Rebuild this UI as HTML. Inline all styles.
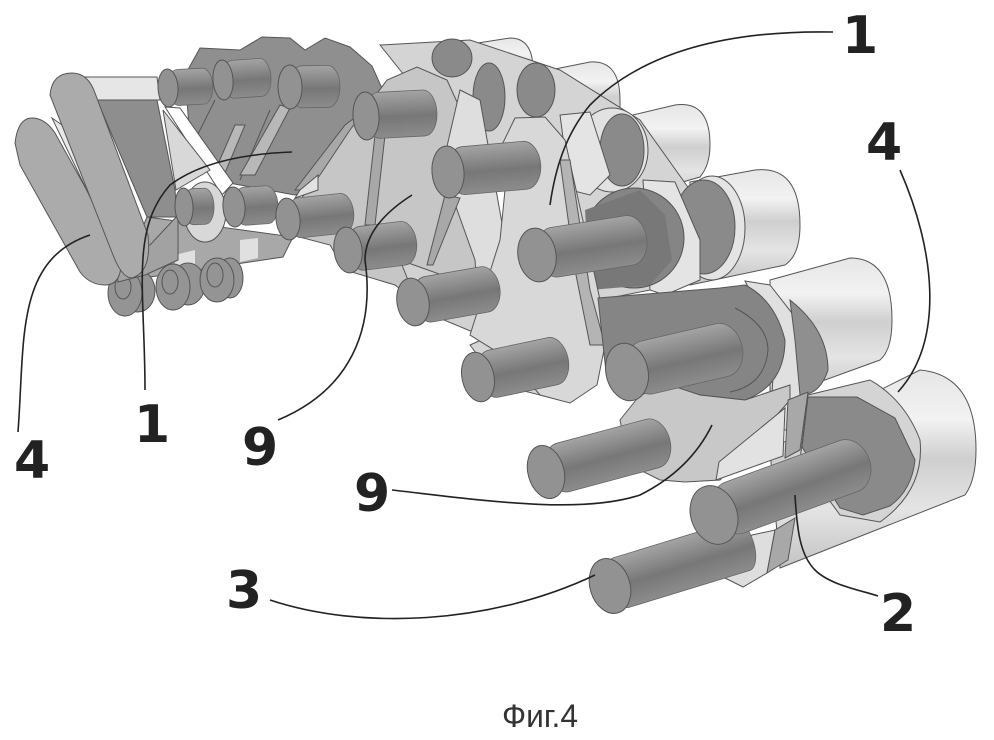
<!DOCTYPE html>
<html><head><meta charset="utf-8"><style>
html,body{margin:0;padding:0;background:#fff}
svg{display:block}
text{font-family:"DejaVu Sans","Liberation Sans",sans-serif;font-weight:bold;fill:#222}
.o{stroke:#555;stroke-width:1}
.pin rect{fill:url(#pin);stroke:#666;stroke-width:.8}
.pin ellipse{fill:#929292;stroke:#555;stroke-width:1}
</style></head><body>
<svg width="994" height="740" viewBox="0 0 994 740" xmlns="http://www.w3.org/2000/svg">
<defs>
<linearGradient id="roll" x1="0" y1="0" x2="0" y2="1"><stop offset="0" stop-color="#e6e6e6"/><stop offset=".25" stop-color="#f2f2f2"/><stop offset=".45" stop-color="#cfcfcf"/><stop offset=".7" stop-color="#e4e4e4"/><stop offset="1" stop-color="#c4c4c4"/></linearGradient>
<linearGradient id="pin" x1="0" y1="0" x2="0" y2="1"><stop offset="0" stop-color="#a4a4a4"/><stop offset=".55" stop-color="#777"/><stop offset="1" stop-color="#8c8c8c"/></linearGradient>
</defs>
<rect width="994" height="740" fill="#fff"/>

<!-- Rollers back to front -->
<g fill="url(#roll)" class="o">
<path d="M465,45 L510,38 Q533,38 533,70 L533,100 L465,105Z"/>
<path d="M540,72 L590,62 Q620,60 620,100 L620,125 L540,140Z"/>
<path d="M620,118 L675,105 Q710,100 710,145 Q710,165 700,177 L620,200Z"/>
<path d="M690,182 L755,170 Q800,165 800,225 Q800,255 785,265 L690,285Z"/>
<path d="M770,280 L850,258 Q892,258 892,320 Q892,350 880,360 L770,400Z"/>
<path d="M860,400 L920,370 Q976,375 976,450 Q976,480 965,495 L780,568 L770,450Z"/>
</g>

<!-- Top back light bands and washers -->
<path d="M380,45 L470,40 L560,70 L640,120 L690,190 L700,280 L600,300 L520,200 L440,120Z" fill="#d4d4d4" class="o"/>
<g fill="#8a8a8a" class="o">
<ellipse cx="452" cy="58" rx="20" ry="19"/>
<ellipse cx="489" cy="97" rx="16" ry="34"/>
<ellipse cx="536" cy="90" rx="19" ry="27"/>
</g>
<ellipse cx="612" cy="150" rx="36" ry="42" fill="#e2e2e2" class="o"/>
<ellipse cx="622" cy="150" rx="22" ry="36" fill="#8a8a8a" class="o"/>
<path d="M560,115 L590,112 L610,175 L590,195 L570,190Z" fill="#e4e4e4" class="o"/>
<ellipse cx="712" cy="228" rx="33" ry="52" fill="#e4e4e4" class="o"/>
<ellipse cx="704" cy="227" rx="31" ry="47" fill="#8a8a8a" class="o"/>
<path d="M643,180 L675,182 L700,240 L700,280 L665,295 L650,290Z" fill="#e4e4e4" class="o"/>
<ellipse cx="634" cy="238" rx="50" ry="50" fill="#858585" class="o"/>
<path d="M585,210 L640,190 L665,215 L672,260 L650,285 L590,290Z" fill="#787878"/>

<!-- Top-left dark mass -->
<path d="M185,75 L200,48 L240,50 L262,37 L290,38 L305,50 L325,38 L350,47 L372,66 L385,95 L360,150 L310,190 L295,195 L240,185 L213,180 L190,140Z" fill="#8f8f8f" class="o"/>
<g fill="none" stroke="#555"><path d="M215,100 L190,150M270,110 L240,180"/></g>
<path d="M235,125 L245,125 L222,180 L212,178Z" fill="#b8b8b8" class="o"/>
<path d="M280,105 L290,108 L255,175 L240,175Z" fill="#b8b8b8" class="o"/>
<path d="M345,125 L385,95 L390,130 L345,170 L305,190 L295,190Z" fill="#a8a8a8" class="o"/>

<!-- Mid plate -->
<path d="M350,130 L387,80 L417,67 L447,80 L462,113 L470,170 L495,250 L520,320 L495,335 L460,325 L420,305 L395,285 L345,270 L330,245 L292,235 L300,200 L320,175Z" fill="#c6c6c6" class="o"/>
<path d="M300,190 L318,175 L318,190 L295,198Z" fill="#e2e2e2" class="o"/>
<path d="M375,135 L385,135 L375,225 L365,225Z" fill="#a8a8a8" class="o"/>
<path d="M460,90 L480,100 L505,240 L530,320 L505,335 L480,330 L475,260 L450,190 L445,155Z" fill="#dedede" class="o"/>
<path d="M445,195 L460,198 L433,265 L427,265Z" fill="#a8a8a8" class="o"/>
<path d="M400,260 L470,285 L510,335 L480,335 L420,310Z" fill="#d2d2d2" class="o"/>
<path d="M515,325 L560,340 L590,385 L560,400 L500,385 L470,345Z" fill="#d5d5d5" class="o"/>

<!-- Plate with pins 6 / 5 -->
<path d="M497,155 L515,118 L545,117 L565,140 L575,185 L585,230 L600,300 L605,345 L597,385 L570,403 L540,395 L510,360 L470,335 L500,240 L505,190Z" fill="#d8d8d8" class="o"/>
<path d="M560,160 L570,160 L590,290 L605,345 L590,345 L575,270Z" fill="#b4b4b4" class="o"/>

<!-- Left end -->
<path d="M80,77 L157,77 L160,100 L97,100Z" fill="#e6e6e6" class="o"/>
<path d="M97,100 L157,100 L175,190 L177,217 L147,217Z" fill="#8e8e8e" class="o"/>
<path d="M165,107 L180,108 L233,183 L222,195Z" fill="#fff" class="o"/>
<path d="M163,110 L210,170 L176,190Z" fill="#d8d8d8" class="o"/>
<path d="M147,217 L293,237 L283,257 L243,263 L150,277 L120,280Z" fill="#a8a8a8" class="o"/>
<path d="M175,255 L195,250 L195,272 L175,276ZM240,240 L258,238 L258,258 L240,262Z" fill="#e0e0e0"/>
<g fill="#949494" class="o">
<ellipse cx="138" cy="291" rx="17" ry="21"/><ellipse cx="125" cy="293" rx="17" ry="23"/>
<ellipse cx="188" cy="284" rx="17" ry="21"/><ellipse cx="173" cy="287" rx="17" ry="23"/>
<ellipse cx="230" cy="278" rx="13" ry="20"/><ellipse cx="217" cy="280" rx="17" ry="22"/>
</g>
<g fill="none" stroke="#555"><ellipse cx="123" cy="287" rx="8" ry="12"/><ellipse cx="170" cy="282" rx="8" ry="12"/><ellipse cx="215" cy="275" rx="8" ry="12"/></g>
<ellipse cx="205" cy="212" rx="21" ry="30" fill="#d8d8d8" class="o"/>
<path d="M115,245 L150,245 L178,215 L178,260 L145,275 L118,282Z" fill="#a2a2a2" class="o"/>
<path d="M15,143 Q18,118 32,118 Q45,118 55,133 L120,250 Q125,285 105,285 Q90,285 80,272 L20,165Z" fill="#ababab" class="o"/>
<path d="M52,118 L62,125 L122,240 L118,255Z" fill="#e8e8e8" class="o"/>
<path d="M50,95 Q52,73 72,73 Q88,73 95,93 L148,235 Q152,272 132,278 Q122,278 113,255Z" fill="#ababab" class="o"/>

<!-- Dark link, pin 4 -->
<path d="M745,281 L770,285 L805,330 L812,385 L790,430 L770,430 L775,340Z" fill="#e0e0e0" class="o"/>
<path d="M790,300 Q828,330 828,370 Q820,395 800,395 L795,340Z" fill="#8f8f8f" class="o"/>
<path d="M598,298 L720,288 L745,285 Q775,300 785,340 Q785,385 745,400 L700,395 L660,385 L640,395 L606,372Z" fill="#858585" class="o"/>
<path d="M735,308 Q768,325 768,350 Q765,385 730,392" fill="none" stroke="#555"/>

<!-- Plate for pin 3 -->
<path d="M620,420 L640,395 L670,385 L700,395 L745,400 L790,385 L790,400 L720,480 L685,482 L660,480 L640,470 L625,445Z" fill="#c8c8c8" class="o"/>
<path d="M719,462 L785,408 L783,456 L716,480Z" fill="#e2e2e2" class="o"/>
<path d="M788,400 L808,392 L800,450 L785,458Z" fill="#a8a8a8" class="o"/>

<!-- Front link -->
<path d="M808,395 L870,380 Q905,400 920,440 Q925,490 880,522 L840,515 L800,460Z" fill="#d4d4d4" class="o"/>
<path d="M808,397 L857,397 L895,418 L915,460 Q912,490 890,506 L863,515 L840,508 L802,447Z" fill="#8a8a8a" class="o"/>
<path d="M715,573 L743,587 L767,573 L775,530 L752,535Z" fill="#dedede" class="o"/>
<path d="M775,530 L795,518 L788,560 L767,573Z" fill="#a8a8a8" class="o"/>

<!-- Pins -->
<g class="pin">
<g transform="translate(168,88) rotate(-3)"><rect width="45" y="-18" height="36" rx="10" ry="18"/><ellipse rx="10" ry="19"/></g>
<g transform="translate(223,80) rotate(-4)"><rect width="48" y="-19" height="38" rx="10" ry="19"/><ellipse rx="10" ry="20"/></g>
<g transform="translate(290,87) rotate(-1)"><rect width="50" y="-21" height="42" rx="12" ry="21"/><ellipse rx="12" ry="22"/></g>
<g transform="translate(184,207) rotate(-2)"><rect width="30" y="-18" height="36" rx="9" ry="18"/><ellipse rx="9" ry="19"/></g>
<g transform="translate(234,207) rotate(-4)"><rect width="44" y="-19" height="38" rx="11" ry="19"/><ellipse rx="11" ry="20"/></g>
<g transform="translate(288,219) rotate(-6)"><rect width="66" y="-20" height="40" rx="12" ry="20"/><ellipse rx="12" ry="21"/></g>
<g transform="translate(348,250) rotate(-7)"><rect width="69" y="-22" height="44" rx="14" ry="22"/><ellipse rx="14" ry="23"/></g>
<g transform="translate(366,116) rotate(-3)"><rect width="71" y="-23" height="46" rx="13" ry="23"/><ellipse rx="13" ry="24"/></g>
<g transform="translate(413,302) rotate(-10)"><rect width="88" y="-23" height="46" rx="16" ry="23"/><ellipse rx="16" ry="24"/></g>
<g transform="translate(448,172) rotate(-5)"><rect width="93" y="-24" height="48" rx="16" ry="24"/><ellipse rx="16" ry="26"/></g>
<g transform="translate(478,377) rotate(-12)"><rect width="92" y="-24" height="48" rx="16" ry="24"/><ellipse rx="16" ry="25"/></g>
<g transform="translate(537,255) rotate(-9)"><rect width="111" y="-25" height="50" rx="18" ry="25"/><ellipse rx="19" ry="27"/></g>
<g transform="translate(627,372) rotate(-13)"><rect width="118" y="-27" height="54" rx="21" ry="27"/><ellipse rx="21" ry="29"/></g>
<g transform="translate(546,472) rotate(-15)"><rect width="128" y="-25" height="50" rx="18" ry="25"/><ellipse rx="18" ry="27"/></g>
<g transform="translate(610,586) rotate(-17)"><rect width="150" y="-26" height="52" rx="12" ry="26"/><ellipse rx="20" ry="28"/></g>
<g transform="translate(714,515) rotate(-20)"><rect width="165" y="-27" height="54" rx="22" ry="27"/><ellipse rx="23" ry="30"/></g>
</g>

<!-- Leader lines -->
<g fill="none" stroke="#222" stroke-width="1.6">
<path d="M833,32 C720,30 640,55 590,105 C565,135 555,170 550,205"/>
<path d="M900,170 C935,250 945,340 898,392"/>
<path d="M145,390 C145,290 130,230 170,185 Q210,155 292,152"/>
<path d="M18,432 C25,340 15,260 90,235"/>
<path d="M278,420 C350,390 375,330 365,260 Q365,225 412,195"/>
<path d="M392,490 C480,500 580,515 640,495 Q690,470 712,425"/>
<path d="M270,600 C360,630 490,625 595,575"/>
<path d="M795,495 C797,530 800,555 815,570 C830,585 860,590 878,596"/>
</g>

<!-- Labels -->
<g font-size="52">
<text x="842" y="53">1</text>
<text x="866" y="160">4</text>
<text x="134" y="442">1</text>
<text x="14" y="478">4</text>
<text x="242" y="465">9</text>
<text x="354" y="511">9</text>
<text x="226" y="608">3</text>
<text x="880" y="631">2</text>
</g>
<text x="502" y="727" style="font-family:'Liberation Sans',sans-serif;font-weight:normal;font-size:32px;fill:#333" textLength="76" lengthAdjust="spacingAndGlyphs">Фиг.4</text>
</svg>
</body></html>
